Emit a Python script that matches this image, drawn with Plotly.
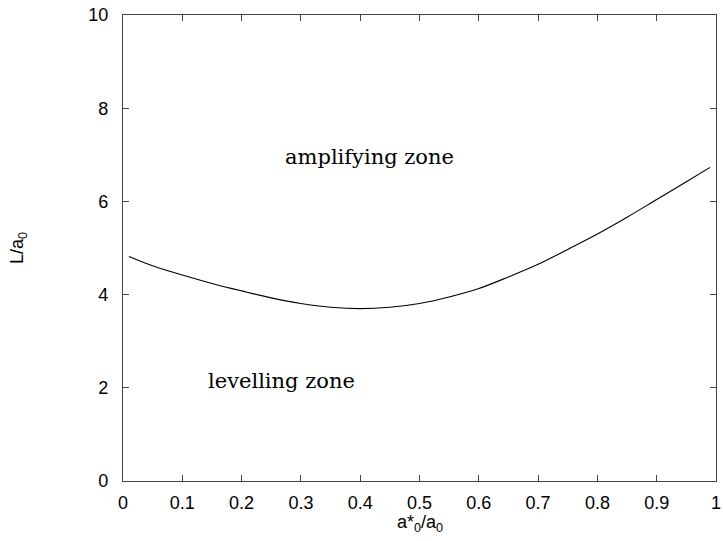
import plotly.graph_objects as go

ratio_x = [0.01, 0.05, 0.10, 0.15, 0.20, 0.25, 0.30, 0.35, 0.40, 0.45, 0.50,
           0.55, 0.60, 0.65, 0.70, 0.75, 0.80, 0.85, 0.90, 0.95, 0.99]
length_y = [4.82, 4.62, 4.42, 4.24, 4.08, 3.93, 3.81, 3.73, 3.70, 3.73, 3.81,
            3.95, 4.13, 4.38, 4.65, 4.97, 5.30, 5.66, 6.04, 6.42, 6.73]

x_ticks = [0, 0.1, 0.2, 0.3, 0.4, 0.5, 0.6, 0.7, 0.8, 0.9, 1]
x_tick_text = ["0", "0.1", "0.2", "0.3", "0.4", "0.5", "0.6", "0.7", "0.8", "0.9", "1"]
y_ticks = [0, 2, 4, 6, 8, 10]

zone_labels = ["amplifying zone", "levelling zone"]
zone_x = [0.416, 0.268]
zone_y = [6.95, 2.15]

fig = go.Figure()
fig.add_trace(go.Scatter(x=ratio_x, y=length_y, mode="lines",
                         line=dict(color="black", width=1.1, shape="spline"),
                         showlegend=False, hoverinfo="skip"))

for t, xx, yy in zip(zone_labels, zone_x, zone_y):
    fig.add_annotation(x=xx, y=yy, text=t, showarrow=False, xanchor="center", yanchor="middle",
                       font=dict(family="DejaVu Serif, Liberation Serif, serif", size=21, color="black"))

axis_common = dict(showgrid=False, zeroline=False, showline=True, linecolor="#444", linewidth=1.4,
                   mirror="ticks", ticks="inside", ticklen=6, tickcolor="#444", tickwidth=1,
                   ticklabeloverflow="allow",
                   tickfont=dict(family="Liberation Sans, Arial, sans-serif", size=18, color="black"))

fig.update_xaxes(range=[0, 1], tickvals=x_ticks, ticktext=x_tick_text, ticklabelstandoff=5, **axis_common)
fig.update_yaxes(range=[0, 10], tickvals=y_ticks, ticklabelstandoff=10, **axis_common)

fig.add_annotation(xref="paper", yref="paper", x=0.501, y=-0.092, text="a*<sub>0</sub>/a<sub>0</sub>",
                   showarrow=False, xanchor="center", yanchor="middle",
                   font=dict(family="Liberation Sans, Arial, sans-serif", size=18, color="black"))
fig.add_annotation(xref="paper", yref="paper", x=-0.177, y=0.5, text="L/a<sub>0</sub>", textangle=-90,
                   showarrow=False, xanchor="center", yanchor="middle",
                   font=dict(family="Liberation Sans, Arial, sans-serif", size=18, color="black"))

fig.update_layout(width=723, height=541, margin=dict(l=123, r=2, t=15, b=60),
                  paper_bgcolor="white", plot_bgcolor="white")

fig.write_html("out.html")
